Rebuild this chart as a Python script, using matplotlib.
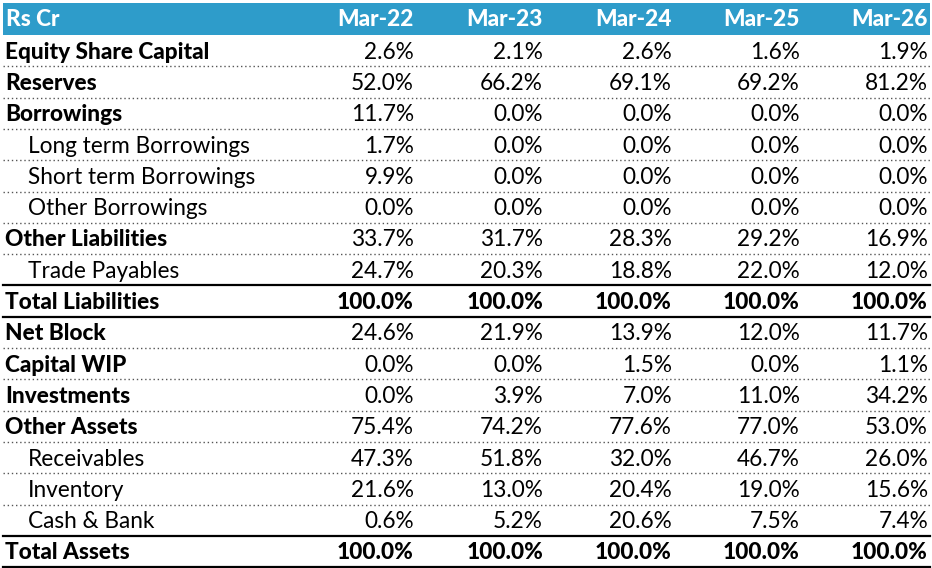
import matplotlib.pyplot as plt

plt.rcParams['font.family'] = ['Lato', 'DejaVu Sans']

# Данные таблицы
columns = ['Mar-22', 'Mar-23', 'Mar-24', 'Mar-25', 'Mar-26']
row_labels = ['Equity Share Capital', 'Reserves', 'Borrowings', 'Long term Borrowings',
              'Short term Borrowings', 'Other Borrowings', 'Other Liabilities', 'Trade Payables',
              'Total Liabilities', 'Net Block', 'Capital WIP', 'Investments', 'Other Assets',
              'Receivables', 'Inventory', 'Cash & Bank', 'Total Assets']
values = [
    [2.6, 2.1, 2.6, 1.6, 1.9],
    [52.0, 66.2, 69.1, 69.2, 81.2],
    [11.7, 0.0, 0.0, 0.0, 0.0],
    [1.7, 0.0, 0.0, 0.0, 0.0],
    [9.9, 0.0, 0.0, 0.0, 0.0],
    [0.0, 0.0, 0.0, 0.0, 0.0],
    [33.7, 31.7, 28.3, 29.2, 16.9],
    [24.7, 20.3, 18.8, 22.0, 12.0],
    [100.0, 100.0, 100.0, 100.0, 100.0],
    [24.6, 21.9, 13.9, 12.0, 11.7],
    [0.0, 0.0, 1.5, 0.0, 1.1],
    [0.0, 3.9, 7.0, 11.0, 34.2],
    [75.4, 74.2, 77.6, 77.0, 53.0],
    [47.3, 51.8, 32.0, 46.7, 26.0],
    [21.6, 13.0, 20.4, 19.0, 15.6],
    [0.6, 5.2, 20.6, 7.5, 7.4],
    [100.0, 100.0, 100.0, 100.0, 100.0],
]
sub_rows = ['Long term Borrowings', 'Short term Borrowings', 'Other Borrowings',
            'Trade Payables', 'Receivables', 'Inventory', 'Cash & Bank']
total_rows = ['Total Liabilities', 'Total Assets']

fig = plt.figure(figsize=(9.32, 5.68), dpi=100)
ax = fig.add_axes([0, 0, 1, 1])
ax.set_xlim(0, 932)
ax.set_ylim(568, 0)
ax.axis('off')

left, right = 3, 930
head_top, head_bot = 3, 35
row_h = 31.3
col_right = [414, 543, 672, 800, 928]
fs = 16.3

# Шапка
ax.add_patch(plt.Rectangle((left, head_top), right - left, head_bot - head_top,
                           color='#2E9CCA', lw=0))
ax.text(6, (head_top + head_bot) / 2 + 1, 'Rs Cr', color='white', fontsize=fs,
        fontweight='black', va='center', ha='left')
for x, c in zip(col_right, columns):
    ax.text(x, (head_top + head_bot) / 2 + 1, c, color='white', fontsize=fs,
            fontweight='black', va='center', ha='right')

# Строки
for i, (name, vals) in enumerate(zip(row_labels, values)):
    top = head_bot + i * row_h
    yc = top + row_h / 2 + 1.5
    bold = name not in sub_rows
    x0 = 28 if name in sub_rows else 5
    ax.text(x0, yc, name, fontsize=fs, fontweight='black' if bold else 'normal',
            va='center', ha='left', color='black')
    for x, v in zip(col_right, vals):
        ax.text(x, yc, f'{v:.1f}%', fontsize=fs, fontweight='black' if name in total_rows else 'normal',
                va='center', ha='right', color='black')
    bottom = top + row_h
    nxt = row_labels[i + 1] if i + 1 < len(row_labels) else None
    if name in total_rows or nxt in total_rows:
        ax.plot([left, right], [bottom, bottom], color='black', lw=1.6)
    else:
        ax.plot([left, right], [bottom, bottom], color='#555555', lw=1, ls=(0, (1, 2)))

fig.savefig('out.png', dpi=100)
